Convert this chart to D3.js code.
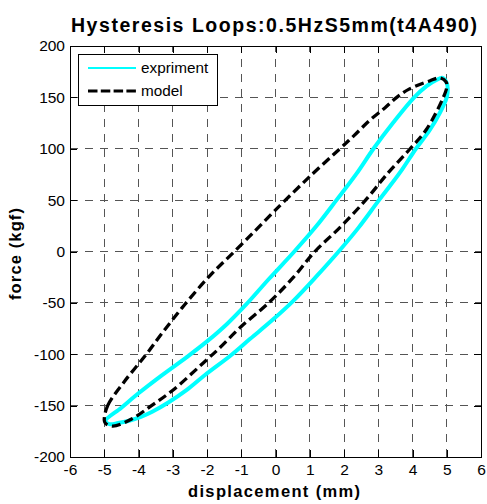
<!DOCTYPE html>
<html>
<head>
<meta charset="utf-8">
<script src="https://cdn.jsdelivr.net/npm/d3@7"></script>
<style>
  html, body { margin: 0; padding: 0; background: #fff; }
  svg { display: block; }
  text { font-family: "Liberation Sans", Arial, sans-serif; }
</style>
</head>
<body>
<div id="chart"></div>
<script>
// ---- data ----
const xTicks = [-6, -5, -4, -3, -2, -1, 0, 1, 2, 3, 4, 5, 6];
const yTicks = [-200, -150, -100, -50, 0, 50, 100, 150, 200];

// experiment loop (closed): loading branch then unloading branch
const expX = [-4.97, -4.5, -4.0, -3.34, -2.6, -2.0, -1.4, -0.87, -0.2, 0.55, 1.2, 1.78, 2.35, 2.86, 3.45, 4.05, 4.41, 4.7, 4.88, 5.0, 5.03,
              5.0, 4.8, 4.5, 4.1, 3.7, 3.3, 3.0, 2.42, 1.87, 1.2, 0.52, -0.1, -0.74, -1.3, -2.05, -2.6, -3.13, -3.6, -3.93, -4.3, -4.6, -4.85];
const expY = [-165, -152, -138, -121, -103, -87.5, -70, -52, -27, 0, 25, 50, 75, 100, 126, 150, 161, 167, 169, 164, 158,
              150, 135, 118, 100, 80, 62, 49, 23, 1, -24, -48, -67, -85, -101, -120, -135, -147, -156, -161, -165, -167, -168];

// model loop (closed)
const modelX = [-5.0, -4.9, -4.4, -3.77, -3.3, -2.66, -1.9, -1.2, -0.6, -0.1, 0.2, 1.0, 1.88, 2.3, 2.76, 3.2, 3.54, 3.9, 4.5, 4.8, 4.98,
                5.0, 4.9, 4.41, 3.93, 3.3, 2.63, 1.9, 1.15, 0.5, -0.2, -1.0, -1.7, -2.03, -2.96, -3.62, -4.2, -4.75, -4.97];
const modelY = [-164, -150, -126, -100, -79, -52, -23, 0, 20, 37, 47, 73, 100, 113, 128, 140, 150, 158, 166, 169, 165,
                160, 150, 119, 100, 77, 50, 24, 0, -26, -50, -73, -96, -106, -134, -150, -163, -170, -167];

const seriesNames = ["expriment", "model"];
const titleText = "Hysteresis Loops:0.5HzS5mm(t4A490)";
const xLabel = "displacement (mm)";
const yLabel = "force (kgf)";

// ---- layout ----
const W = 487, H = 504;
const L = 70, R = 481, T = 46, B = 457;

const svg = d3.select("#chart").append("svg").attr("width", W).attr("height", H);

const x = d3.scaleLinear().domain([-6, 6]).range([L, R]);
const y = d3.scaleLinear().domain([-200, 200]).range([B, T]);

// grid
const grid = svg.append("g").attr("stroke", "#555").attr("stroke-width", 1)
  .attr("stroke-dasharray", "8,7").attr("shape-rendering", "crispEdges");
xTicks.slice(1, -1).forEach(v => {
  grid.append("line").attr("x1", x(v)).attr("x2", x(v)).attr("y1", B).attr("y2", T);
});
yTicks.slice(1, -1).forEach(v => {
  grid.append("line").attr("y1", y(v)).attr("y2", y(v)).attr("x1", L).attr("x2", R);
});

// axes
const fmt = d => String(d);
const axB = svg.append("g").attr("transform", `translate(0,${B})`)
  .call(d3.axisBottom(x).tickValues(xTicks).tickFormat(fmt).tickSizeInner(-7).tickSizeOuter(0).tickPadding(7));
const axL = svg.append("g").attr("transform", `translate(${L},0)`)
  .call(d3.axisLeft(y).tickValues(yTicks).tickFormat(fmt).tickSizeInner(-7).tickSizeOuter(0).tickPadding(5));
const axT = svg.append("g").attr("transform", `translate(0,${T})`)
  .call(d3.axisTop(x).tickValues(xTicks).tickFormat("").tickSizeInner(-7).tickSizeOuter(0));
const axR = svg.append("g").attr("transform", `translate(${R},0)`)
  .call(d3.axisRight(y).tickValues(yTicks).tickFormat("").tickSizeInner(-7).tickSizeOuter(0));
[axB, axL, axT, axR].forEach(a => {
  a.select(".domain").remove();
  a.selectAll("line").attr("stroke", "#000").attr("shape-rendering", "crispEdges");
  a.selectAll("text").attr("font-size", 15.5).attr("fill", "#000")
    .attr("font-family", '"Liberation Sans", Arial, sans-serif');
});

// curves
const line = d3.line().x(d => x(d[0])).y(d => y(d[1])).curve(d3.curveCatmullRomClosed.alpha(0.5));
const expData = expX.map((v, i) => [v, expY[i]]);
const modelData = modelX.map((v, i) => [v, modelY[i]]);

svg.append("path").datum(expData).attr("d", line)
  .attr("fill", "none").attr("stroke", "#00ffff").attr("stroke-width", 4).attr("stroke-linejoin", "round");
svg.append("path").datum(modelData).attr("d", line)
  .attr("fill", "none").attr("stroke", "#000").attr("stroke-width", 3.3).attr("stroke-dasharray", "9,4.5");

// box
svg.append("rect").attr("x", L).attr("y", T).attr("width", R - L).attr("height", B - T)
  .attr("fill", "none").attr("stroke", "#000").attr("stroke-width", 1).attr("shape-rendering", "crispEdges");

// legend
const lg = svg.append("g");
lg.append("rect").attr("x", 78).attr("y", 54).attr("width", 139).attr("height", 51)
  .attr("fill", "#fff").attr("stroke", "#000").attr("stroke-width", 1).attr("shape-rendering", "crispEdges");
lg.append("line").attr("x1", 88).attr("x2", 136).attr("y1", 68).attr("y2", 68)
  .attr("stroke", "#00ffff").attr("stroke-width", 2.2);
lg.append("line").attr("x1", 88).attr("x2", 136).attr("y1", 91).attr("y2", 91)
  .attr("stroke", "#000").attr("stroke-width", 3).attr("stroke-dasharray", "9.5,3.3");
lg.append("text").attr("x", 141).attr("y", 73).attr("font-size", 15.3).text(seriesNames[0]);
lg.append("text").attr("x", 141).attr("y", 96).attr("font-size", 15.3).text(seriesNames[1]);

// title and labels
svg.append("text").attr("x", 274).attr("y", 32).attr("text-anchor", "middle")
  .attr("font-size", 19.5).attr("font-weight", "bold")
  .attr("textLength", 406).attr("lengthAdjust", "spacing").text(titleText);
svg.append("text").attr("x", 274).attr("y", 497).attr("text-anchor", "middle")
  .attr("font-size", 16.5).attr("font-weight", "bold")
  .attr("textLength", 172).attr("lengthAdjust", "spacing").text(xLabel);
svg.append("text").attr("transform", "translate(21,254) rotate(-90)").attr("text-anchor", "middle")
  .attr("font-size", 16.5).attr("font-weight", "bold")
  .attr("textLength", 92).attr("lengthAdjust", "spacing").text(yLabel);
</script>
</body>
</html>
